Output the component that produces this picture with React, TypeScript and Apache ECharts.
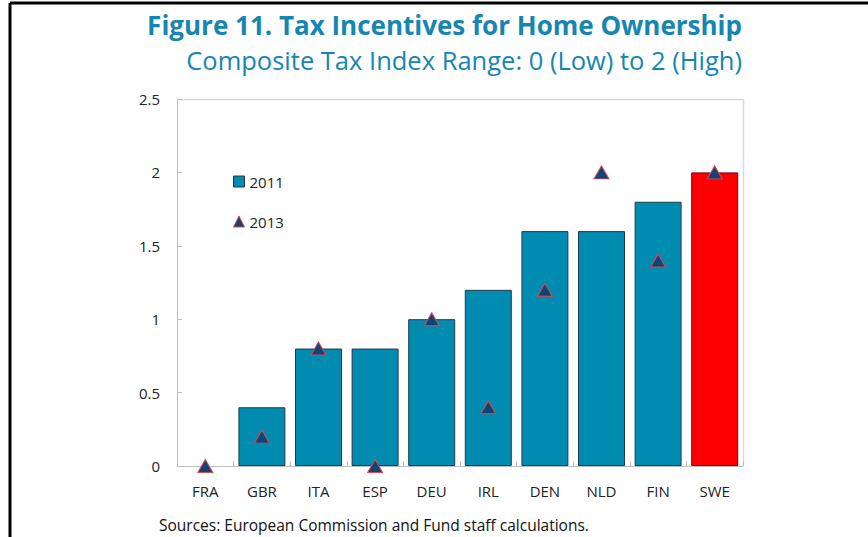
import React, { useEffect, useRef } from "react";
import * as echarts from "echarts";

const categories = ["FRA", "GBR", "ITA", "ESP", "DEU", "IRL", "DEN", "NLD", "FIN", "SWE"];
const values2011 = [0, 0.4, 0.8, 0.8, 1.0, 1.2, 1.6, 1.6, 1.8, 2.0];
const values2013 = [0, 0.2, 0.8, 0, 1.0, 0.4, 1.2, 2.0, 1.4, 2.0];
const yTicks = [0, 0.5, 1, 1.5, 2, 2.5];

const FONT = "'Open Sans', 'Noto Sans', sans-serif";

export default function App() {
  const ref = useRef<HTMLDivElement>(null);
  useEffect(() => {
    if (!ref.current) return;
    const chart = echarts.init(ref.current, null, { renderer: "svg" });
    const barData = values2011.map((v, i) => {
      if (v === 0) return { value: v, itemStyle: { borderWidth: 0, opacity: 0 } };
      if (categories[i] === "SWE")
        return { value: v, itemStyle: { color: "#FF0000", borderColor: "#7a0000" } };
      return v;
    });
    chart.setOption({
      animation: false,
      backgroundColor: "#ffffff",
      textStyle: { fontFamily: FONT },
      title: [
        {
          text: "Figure 11. Tax Incentives for Home Ownership",
          right: 121,
          top: 7,
          textStyle: { fontFamily: FONT, fontSize: 26, fontWeight: "bold", color: "#1686B1" },
        },
        {
          text: "Composite Tax Index Range: 0 (Low) to 2 (High)",
          right: 121,
          top: 42,
          textStyle: { fontFamily: FONT, fontSize: 25.5, fontWeight: "normal", color: "#1686B1" },
        },
      ],
      legend: {
        orient: "vertical",
        left: 228,
        top: 169,
        itemGap: 25,
        itemWidth: 11,
        itemHeight: 11,
        textStyle: { fontFamily: FONT, fontSize: 15, color: "#222" },
        data: [
          { name: "2011", icon: "rect", itemStyle: { color: "#008CB0", borderColor: "#1d3b48", borderWidth: 1 } },
          { name: "2013", icon: "triangle", itemStyle: { color: "#0B4677", borderColor: "#E0474C", borderWidth: 1 } },
        ],
      },
      grid: { left: 177, right: 125, top: 99, bottom: 71 },
      xAxis: {
        type: "category",
        data: categories,
        axisLine: { show: true, lineStyle: { color: "#bfbfbf", width: 1 } },
        axisTick: { show: true, inside: true, length: 5, lineStyle: { color: "#bfbfbf" } },
        axisLabel: { fontFamily: FONT, fontSize: 15, color: "#222", margin: 17 },
      },
      yAxis: {
        type: "value",
        min: 0,
        max: 2.5,
        interval: 0.5,
        axisLine: { show: true, lineStyle: { color: "#bfbfbf", width: 1 } },
        axisTick: { show: true, inside: true, length: 5, lineStyle: { color: "#bfbfbf" } },
        axisLabel: {
          fontFamily: FONT,
          fontSize: 15,
          color: "#222",
          margin: 17,
          formatter: (v: number) => (yTicks.includes(v) ? String(v) : ""),
        },
        splitLine: { show: false },
      },
      graphic: [
        { type: "line", shape: { x1: 177, y1: 99.5, x2: 743.5, y2: 99.5 }, style: { stroke: "#d9d9d9", lineWidth: 1.5 } },
        { type: "line", shape: { x1: 743.5, y1: 99.5, x2: 743.5, y2: 466 }, style: { stroke: "#d9d9d9", lineWidth: 1.5 } },
        { type: "line", shape: { x1: 10, y1: 3, x2: 868, y2: 3 }, style: { stroke: "#000", lineWidth: 3 } },
        { type: "line", shape: { x1: 10, y1: 3, x2: 10, y2: 537 }, style: { stroke: "#000", lineWidth: 3 } },
        {
          type: "text",
          left: 159,
          top: 517,
          style: { text: "Sources: European Commission and Fund staff calculations.", font: `15.5px ${FONT}`, fill: "#111" },
        },
      ],
      series: [
        {
          name: "2011",
          type: "bar",
          data: barData,
          barCategoryGap: "17%",
          itemStyle: { color: "#008CB0", borderColor: "#1d3b48", borderWidth: 1 },
        },
        {
          name: "2013",
          type: "scatter",
          data: values2013,
          symbol: "triangle",
          symbolSize: [15, 13],
          itemStyle: { color: "#0B4677", borderColor: "#E0474C", borderWidth: 1, opacity: 1 },
          z: 5,
        },
      ],
    });
    return () => chart.dispose();
  }, []);
  return (
    <div
      ref={ref}
      style={{ position: "fixed", left: 0, top: 0, width: 868, height: 537, background: "#fff" }}
    />
  );
}
